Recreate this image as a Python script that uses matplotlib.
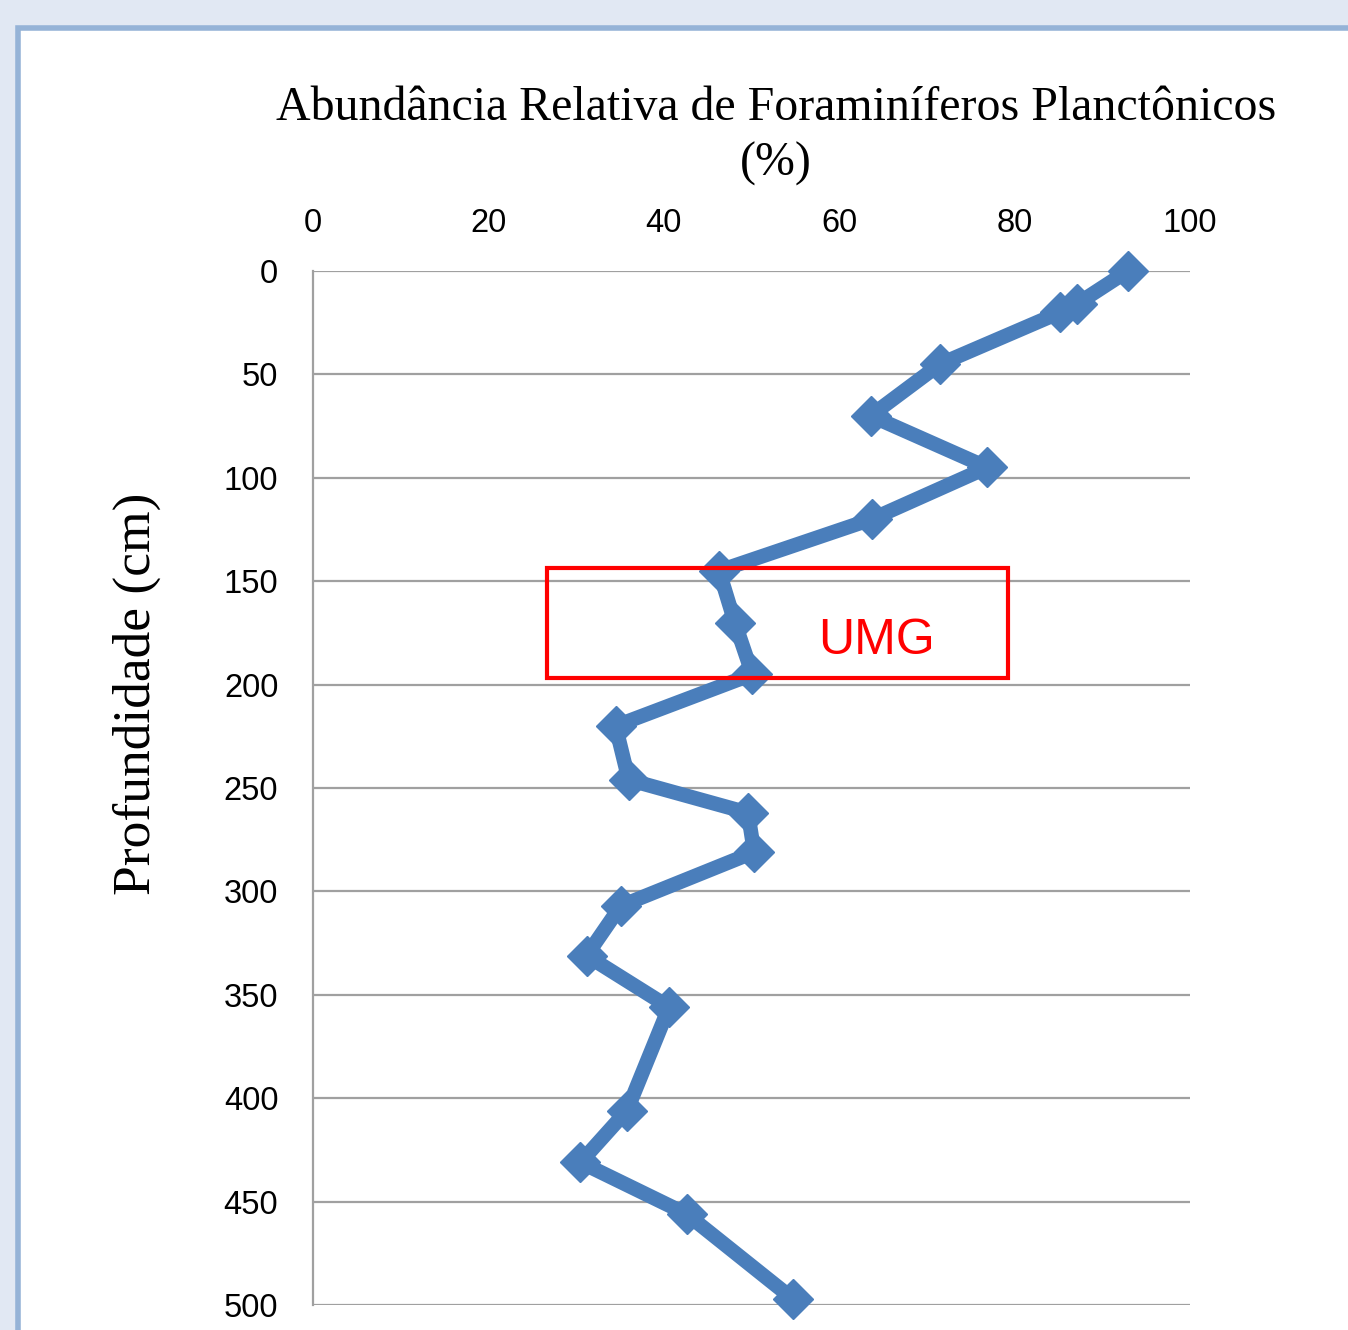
import matplotlib.pyplot as plt
from matplotlib.patches import Rectangle

# abundance (%) vs depth (cm)
abundance = [92.9, 87.1, 85.2, 71.5, 63.6, 76.9, 63.7, 46.3, 48.1, 50.1,
             34.5, 36.0, 49.6, 50.3, 35.1, 31.2, 40.6, 35.8, 30.5, 42.6, 54.7]
depth = [0, 16, 20, 45, 70, 95, 120, 145, 170, 195,
         220, 246, 262, 281, 307, 331, 356, 406, 431, 456, 497]

x_ticks = [0, 20, 40, 60, 80, 100]
y_ticks = [0, 50, 100, 150, 200, 250, 300, 350, 400, 450, 500]

# UMG interval box (x range, depth range)
umg_x = [26.7, 79.2]
umg_depth = [143.6, 196.8]

blue = '#4A7EBB'
serif = ['Liberation Serif', 'DejaVu Serif']
sans = ['Liberation Sans', 'DejaVu Sans']

fig = plt.figure(figsize=(13.48, 13.3), dpi=100)
fig.patch.set_facecolor('#E1E8F3')
fig.patches.append(Rectangle((18 / 1348, -0.05), 1.1, 1302 / 1330 + 0.05,
                             transform=fig.transFigure, facecolor='white',
                             edgecolor='#95B3D7', linewidth=4, zorder=-10))

ax = fig.add_axes([313 / 1348, 25 / 1330, 877 / 1348, 1034 / 1330])
ax.set_zorder(2)
ax.set_facecolor('none')
ax.plot(abundance, depth, color=blue, linewidth=10.5, marker='D',
        markersize=20, markerfacecolor=blue, markeredgecolor=blue,
        clip_on=False, zorder=3)

ax.add_patch(Rectangle((umg_x[0], umg_depth[0]), umg_x[1] - umg_x[0],
                       umg_depth[1] - umg_depth[0], fill=False,
                       edgecolor='#FF0000', linewidth=3, zorder=4))
ax.text(64.3, 179, 'UMG', color='#FF0000', fontsize=36, family=sans,
        ha='center', va='center', zorder=5)

ax.set_xlim(0, 100)
ax.set_ylim(500, 0)
ax.set_xticks(x_ticks)
ax.set_yticks(y_ticks)
ax.xaxis.tick_top()
ax.tick_params(axis='both', length=0, labelsize=23.5)
ax.tick_params(axis='x', pad=23)
ax.tick_params(axis='y', pad=25)
for lab in ax.get_xticklabels() + ax.get_yticklabels():
    lab.set_family(sans)
ax.grid(axis='y', color='#A0A0A0', linewidth=1.6)
ax.grid(axis='x', visible=False)
for side in ['top', 'right', 'bottom']:
    ax.spines[side].set_visible(False)
ax.spines['left'].set_color('#A0A0A0')
ax.spines['left'].set_linewidth(1.6)

fig.text(776 / 1348, 1 - 136 / 1330,
         'Abundância Relativa de Foraminíferos Planctônicos\n(%)',
         ha='center', va='center', fontsize=34.5, family=serif,
         linespacing=1.37)
fig.text(137 / 1348, 1 - 694 / 1330, 'Profundidade (cm)', rotation=90,
         ha='center', va='center', fontsize=38.5, family=serif)

fig.savefig('out.png', dpi=100, facecolor=fig.get_facecolor())
